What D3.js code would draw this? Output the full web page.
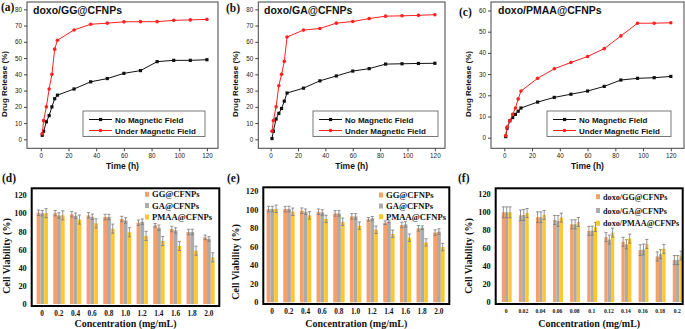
<!DOCTYPE html>
<html><head><meta charset="utf-8">
<script src="https://cdn.jsdelivr.net/npm/d3@7/dist/d3.min.js"></script>
<style>
html,body{margin:0;padding:0;background:#fff;}
svg{display:block;}
</style>
</head><body>
<svg id="chart" width="685" height="329"></svg>
<script>
// ---------- DATA ----------
const timeH = [1,2,4,6,8,10,12,24,36,48,60,72,84,96,108,120];
const releaseTicksX = [0,20,40,60,80,100,120];
const releaseTicksYab = [0,10,20,30,40,50,60,70,80];
const releaseTicksYc = [0,10,20,30,40,50,60];
const seriesNames = ["No Magnetic Field","Under Magnetic Field"];

const ggNoField  = [2.5,5,10.8,14.6,20,25,27.2,31,35.4,37.4,40.6,42.3,47.8,48.6,48.6,49];
const ggField    = [3.5,11.5,20,31,40,55.5,61,67.3,70.8,71.5,72.3,72.4,72.4,73.2,73.5,73.8];
const gaNoField  = [0.5,5,12.5,16,19,23.5,28.5,31.5,36,39,42,43.5,46.3,46.5,46.7,46.8];
const gaField    = [5,11.5,20,33,40,48,63,67.2,68.2,71.5,72.5,74.3,75.8,76,76.3,76.7];
const pmaaNoField= [0.5,4.5,8,9.5,11,12.5,14,16.8,19,20.5,22,24.2,27.2,28,28.3,28.9];
const pmaaField  = [1,5,8,11,14,18.3,22,28,32.5,35.5,38.3,42,48,54,54,54.2];

const concDE = ["0","0.2","0.4","0.6","0.8","1.0","1.2","1.4","1.6","1.8","2.0"];
const concF  = ["0","0.02","0.04","0.06","0.08","0.1","0.12","0.14","0.16","0.18","0.2"];
const viabTicks = [0,20,40,60,80,100,120];

const namesDE = ["GG@CFNPs","GA@CFNPs","PMAA@CFNPs"];
const namesF  = ["doxo/GG@CFNPs","doxo/GA@CFNPs","doxo/PMAA@CFNPs"];

const viabD_GG   = [100.5,100,98.7,97.6,95.8,93.6,89.5,86.6,82.6,79.3,73.4];
const viabD_GA   = [100,97.5,97.2,96,95.8,92,90.6,84,81,79.3,71.6];
const viabD_PMAA = [100,97.6,93,88.8,83,79,75,69.4,63.9,58.7,51.4];
const errD_GG    = [3,3,3,3,3,3,3,2,3,3,2.5];
const errD_GA    = [3,3,3,3,3,3,3,3,3,3,2.5];
const errD_PMAA  = [5,5,5,5,5,5,5,5,5,5,5];

const viabE_GG   = [100.7,100.7,98.9,97.8,96,92.8,89.6,86,83.5,79.9,75.3];
const viabE_GA   = [100.7,100.7,97.8,97,96,92.8,90.7,87,84.2,80.6,76.3];
const viabE_PMAA = [101,97.8,93.9,90,87,82.7,78.4,74,69.8,64.7,59.7];
const errE_GG    = [3,3,3,3,3,3,2,2,3,3,3];
const errE_GA    = [3,3,3,3,3,3,2,1,3,2,3];
const errE_PMAA  = [4,4,4,4,4,4,4,4,4,4,4];

const viabF_GG   = [99.4,96,93.9,90.9,86.1,78.8,71.9,66.7,57.5,50.5,46.5];
const viabF_GA   = [99.4,96.4,93.9,89.8,86.1,79.1,69.2,64,58.2,53,46.5];
const viabF_PMAA = [99.4,98.6,96.5,93.5,88.7,83.2,76.9,70.3,64.4,58.9,51.5];
const errF_GG    = [6,6,6,5,5,5,5,5,6,5,5];
const errF_GA    = [6,6,6,6,5,5,5,5,6,5,5];
const errF_PMAA  = [6,5,5,5,5,5,5,5,5,5,5];

// ---------- STYLE ----------
const SANS = "'Liberation Sans', Arial, sans-serif";
const SERIF = "'Liberation Serif', 'Times New Roman', serif";
const barColors = ["#F4A06A","#ABABAB","#FFC62E"];

const svg = d3.select("#chart");

// ---------- RELEASE PANELS ----------
function releasePanel(o){
  const g = svg.append("g");
  const x = d3.scaleLinear().domain(o.xDom).range([o.l, o.r]);
  const y = d3.scaleLinear().domain(o.yDom).range([o.b, o.t]);
  g.append("rect").attr("x",o.l).attr("y",o.t).attr("width",o.r-o.l).attr("height",o.b-o.t)
    .attr("fill","none").attr("stroke","#444").attr("stroke-width",1);
  const ax = g.append("g").attr("transform",`translate(0,${o.b})`)
    .call(d3.axisBottom(x).tickValues(releaseTicksX).tickSize(3).tickPadding(2).tickFormat(d3.format("d")));
  const ay = g.append("g").attr("transform",`translate(${o.l},0)`)
    .call(d3.axisLeft(y).tickValues(o.yTicks).tickSize(3).tickPadding(2).tickFormat(d3.format("d")));
  [ax,ay].forEach(a=>{
    a.select(".domain").remove();
    a.selectAll("line").attr("stroke","#444");
    a.selectAll("text").attr("font-family",SANS).attr("font-size",6.3).attr("fill","#222");
  });
  const line = d3.line().x((d,i)=>x(timeH[i])).y(d=>y(d));
  const ser = [{v:o.no,c:"#111",m:"sq"},{v:o.field,c:"#ff2020",m:"ci"}];
  ser.forEach(s=>{
    g.append("path").attr("d",line(s.v)).attr("fill","none").attr("stroke",s.c).attr("stroke-width",1);
    if(s.m==="sq"){
      g.selectAll(null).data(s.v).enter().append("rect")
        .attr("x",(d,i)=>x(timeH[i])-1.6).attr("y",d=>y(d)-1.6)
        .attr("width",3.2).attr("height",3.2).attr("fill",s.c);
    } else {
      g.selectAll(null).data(s.v).enter().append("circle")
        .attr("cx",(d,i)=>x(timeH[i])).attr("cy",d=>y(d)).attr("r",1.8).attr("fill",s.c);
    }
  });
  g.append("text").attr("x",o.titleX).attr("y",14).text(o.title)
    .attr("font-family",SANS).attr("font-weight","bold").attr("font-size",10.5).attr("fill","#111");
  g.append("text").attr("x",o.labX).attr("y",o.labY).text(o.lab)
    .attr("font-family",SERIF).attr("font-weight","bold").attr("font-size",11.5).attr("fill","#111");
  g.append("text").attr("x",(o.l+o.r)/2).attr("y",169).attr("text-anchor","middle").text("Time (h)")
    .attr("font-family",SANS).attr("font-weight","bold").attr("font-size",8.5).attr("fill","#111");
  g.append("text").attr("transform",`translate(${o.yLabX},${84}) rotate(-90)`).attr("text-anchor","middle")
    .text("Drug Release (%)").attr("font-family",SANS).attr("font-weight","bold").attr("font-size",8).attr("fill","#111");
  const lg = g.append("g");
  lg.append("rect").attr("x",o.lgX).attr("y",111).attr("width",o.lgW).attr("height",25.5)
    .attr("fill","#fff").attr("stroke","#555").attr("stroke-width",0.8);
  seriesNames.forEach((n,i)=>{
    const yy = 119.5 + i*11;
    const c = i===0 ? "#111" : "#ff2020";
    lg.append("line").attr("x1",o.lgX+6).attr("x2",o.lgX+29).attr("y1",yy).attr("y2",yy).attr("stroke",c).attr("stroke-width",1);
    if(i===0) lg.append("rect").attr("x",o.lgX+16).attr("y",yy-1.6).attr("width",3.2).attr("height",3.2).attr("fill",c);
    else lg.append("circle").attr("cx",o.lgX+17.5).attr("cy",yy).attr("r",1.8).attr("fill",c);
    lg.append("text").attr("x",o.lgX+32).attr("y",yy+3).text(n)
      .attr("font-family",SANS).attr("font-weight","bold").attr("font-size",8).attr("fill","#111");
  });
}

releasePanel({l:27,r:218,t:2,b:148.3,xDom:[-10,128],yDom:[-5.5,84.5],yTicks:releaseTicksYab,
  no:ggNoField,field:ggField,title:"doxo/GG@CFNPs",titleX:33,lab:"(a)",labX:1,labY:11,yLabX:7,lgX:83,lgW:122});
releasePanel({l:258.3,r:445,t:2,b:148.3,xDom:[-9,127.4],yDom:[-5.5,84.5],yTicks:releaseTicksYab,
  no:gaNoField,field:gaField,title:"doxo/GA@CFNPs",titleX:264,lab:"(b)",labX:226,labY:12,yLabX:238,lgX:313,lgW:125});
releasePanel({l:491,r:684,t:2,b:148.3,xDom:[-9.6,129.5],yDom:[-5,64],yTicks:releaseTicksYc,
  no:pmaaNoField,field:pmaaField,title:"doxo/PMAA@CFNPs",titleX:498,lab:"(c)",labX:459,labY:16,yLabX:471,lgX:547,lgW:124});

// ---------- VIABILITY PANELS ----------
function viabPanel(o){
  const g = svg.append("g");
  const x = d3.scalePoint().domain(o.cats).range([o.c0,o.c1]);
  const y = d3.scaleLinear().domain(o.yDom).range([o.b,o.t]);
  const series = [o.v0,o.v1,o.v2], errs=[o.e0,o.e1,o.e2];
  series.forEach((vals,k)=>{
    const off = (k-1)*o.bw - o.bw/2 + o.shift;
    g.selectAll(null).data(vals).enter().append("rect")
      .attr("x",(d,i)=>x(o.cats[i])+off).attr("y",d=>y(d))
      .attr("width",o.bw).attr("height",d=>y(0)-y(d)).attr("fill",barColors[k]);
  });
  series.forEach((vals,k)=>{
    const off = (k-1)*o.bw + o.shift;
    vals.forEach((d,i)=>{
      const cx = x(o.cats[i])+off, e = errs[k][i];
      g.append("line").attr("x1",cx).attr("x2",cx).attr("y1",y(d-e)).attr("y2",y(d+e)).attr("stroke","#7a7a7a").attr("stroke-width",0.8);
      g.append("line").attr("x1",cx-1.6).attr("x2",cx+1.6).attr("y1",y(d+e)).attr("y2",y(d+e)).attr("stroke","#7a7a7a").attr("stroke-width",0.8);
      g.append("line").attr("x1",cx-1.6).attr("x2",cx+1.6).attr("y1",y(d-e)).attr("y2",y(d-e)).attr("stroke","#7a7a7a").attr("stroke-width",0.8);
    });
  });
  g.append("rect").attr("x",o.l).attr("y",o.t).attr("width",o.r-o.l).attr("height",o.b-o.t)
    .attr("fill","none").attr("stroke","#000").attr("stroke-width",2);
  const ay = g.append("g").attr("transform",`translate(${o.l},0)`)
    .call(d3.axisLeft(y).tickValues(viabTicks).tickSize(0).tickPadding(5));
  ay.select(".domain").remove();
  ay.selectAll("text").attr("font-family",SERIF).attr("font-weight","bold").attr("font-size",8.3).attr("fill","#111");
  const ax = g.append("g").attr("transform",`translate(0,${o.b})`)
    .call(d3.axisBottom(x).tickSize(0).tickPadding(5));
  ax.select(".domain").remove();
  ax.selectAll("text").attr("font-family",SERIF).attr("font-weight","bold").attr("font-size",o.xfs).attr("fill","#111");
  g.append("text").attr("x",(o.l+o.r)/2).attr("y",326.5).attr("text-anchor","middle").text("Concentration (mg/mL)")
    .attr("font-family",SERIF).attr("font-weight","bold").attr("font-size",10).attr("fill","#111");
  g.append("text").attr("transform",`translate(${o.yLabX},${o.yLabY}) rotate(-90)`).attr("text-anchor","middle")
    .text("Cell Viability (%)").attr("font-family",SERIF).attr("font-weight","bold").attr("font-size",10).attr("fill","#111");
  g.append("text").attr("x",o.labX).attr("y",182).text(o.lab)
    .attr("font-family",SERIF).attr("font-weight","bold").attr("font-size",11.5).attr("fill","#111");
  o.names.forEach((n,k)=>{
    const yy = o.lgY[k];
    g.append("rect").attr("x",o.lgX-2).attr("y",yy-2.5).attr("width",4).attr("height",5).attr("fill",barColors[k]);
    g.append("text").attr("x",o.lgX+5).attr("y",yy+3).text(n)
      .attr("font-family",SERIF).attr("font-weight","bold").attr("font-size",o.lfs).attr("fill","#111");
  });
}

viabPanel({l:31.7,r:219.3,t:188.3,b:306,yDom:[-2.2,127.4],c0:41.7,c1:208.3,cats:concDE,bw:3.8,shift:0.6,xfs:7.3,
  v0:viabD_GG,v1:viabD_GA,v2:viabD_PMAA,e0:errD_GG,e1:errD_GA,e2:errD_PMAA,
  names:namesDE,lgX:147,lgY:[194.3,205.5,217],lfs:8.6,yLabX:10,yLabY:256,lab:"(d)",labX:2});
viabPanel({l:263.3,r:449.3,t:187.3,b:304,yDom:[-1.8,124.2],c0:271.7,c1:438.3,cats:concDE,bw:3.8,shift:0.6,xfs:7.3,
  v0:viabE_GG,v1:viabE_GA,v2:viabE_PMAA,e0:errE_GG,e1:errE_GA,e2:errE_PMAA,
  names:namesDE,lgX:381,lgY:[195,206,216.7],lfs:8.6,yLabX:239,yLabY:262,lab:"(e)",labX:227});
viabPanel({l:495.7,r:682.7,t:188.3,b:304,yDom:[-2.2,126],c0:505.7,c1:676.7,cats:concF,bw:3.3,shift:1,xfs:5.6,
  v0:viabF_GG,v1:viabF_GA,v2:viabF_PMAA,e0:errF_GG,e1:errF_GA,e2:errF_PMAA,
  names:namesF,lgX:598,lgY:[196.7,210.5,223.3],lfs:8.2,yLabX:472,yLabY:256,lab:"(f)",labX:458});
</script>
</body></html>
